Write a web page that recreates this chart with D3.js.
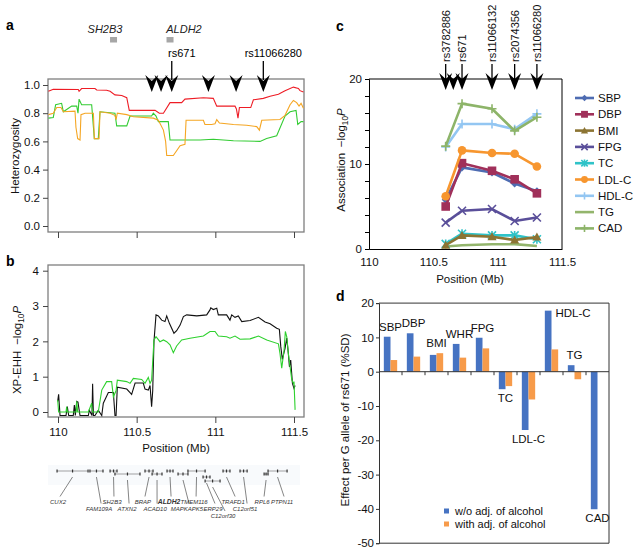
<!DOCTYPE html>
<html><head><meta charset="utf-8">
<script src="https://cdn.jsdelivr.net/npm/d3@7"></script>
<style>body{margin:0;background:#fff} svg{font-family:"Liberation Sans",Arial,sans-serif}</style>
</head><body><svg id="c" width="637" height="555"></svg>
<script>
// ---------------- DATA ----------------
// Panel a: heterozygosity [Mb, value]
const hetRed = [[109.939,0.955],[109.97,0.97],[110.129,0.968],[110.134,0.955],[110.15,0.975],[110.235,0.975],[110.246,0.965],[110.309,0.963],[110.331,0.955],[110.362,0.93],[110.405,0.925],[110.437,0.91],[110.453,0.82],[110.617,0.82],[110.644,0.80],[110.67,0.80],[110.712,0.875],[110.786,0.875],[110.807,0.90],[110.924,0.91],[110.987,0.905],[111.009,0.85],[111.125,0.85],[111.134,0.83],[111.144,0.765],[111.153,0.84],[111.225,0.84],[111.242,0.895],[111.305,0.905],[111.348,0.92],[111.401,0.935],[111.443,0.96],[111.496,0.985],[111.528,0.975],[111.538,0.96],[111.56,0.95]];
const hetOrange = [[109.939,0.79],[109.97,0.80],[109.992,0.84],[110.019,0.84],[110.034,0.81],[110.108,0.815],[110.114,0.70],[110.125,0.62],[110.14,0.61],[110.146,0.79],[110.172,0.80],[110.225,0.80],[110.231,0.62],[110.261,0.62],[110.267,0.81],[110.331,0.80],[110.362,0.785],[110.369,0.755],[110.377,0.80],[110.437,0.79],[110.479,0.775],[110.606,0.765],[110.638,0.75],[110.67,0.68],[110.684,0.60],[110.691,0.50],[110.733,0.50],[110.776,0.57],[110.807,0.58],[110.814,0.75],[110.924,0.75],[110.934,0.72],[110.977,0.72],[110.998,0.725],[111.009,0.755],[111.026,0.73],[111.115,0.72],[111.199,0.715],[111.263,0.705],[111.28,0.68],[111.295,0.75],[111.411,0.755],[111.443,0.785],[111.475,0.86],[111.496,0.89],[111.517,0.875],[111.532,0.85],[111.545,0.87],[111.56,0.835]];
const hetGreen = [[109.939,0.765],[109.97,0.77],[109.985,0.86],[110.023,0.87],[110.034,0.81],[110.087,0.85],[110.119,0.85],[110.127,0.80],[110.134,0.90],[110.15,0.86],[110.214,0.86],[110.231,0.62],[110.256,0.62],[110.267,0.81],[110.362,0.80],[110.373,0.71],[110.437,0.71],[110.458,0.78],[110.595,0.78],[110.606,0.80],[110.623,0.78],[110.638,0.74],[110.701,0.74],[110.712,0.61],[110.903,0.61],[110.987,0.615],[111.115,0.605],[111.284,0.60],[111.326,0.62],[111.39,0.64],[111.443,0.78],[111.475,0.81],[111.513,0.82],[111.524,0.72],[111.545,0.74],[111.56,0.74]];
// Panel b: XP-EHH -log10P [Mb, value]
const xpBlack = [[109.998,0.3],[110.004,0.5],[110.013,-0.1],[110.051,-0.1],[110.059,0.15],[110.068,-0.1],[110.097,-0.1],[110.104,0.2],[110.11,-0.1],[110.119,0.3],[110.127,0.28],[110.133,0.1],[110.14,-0.1],[110.193,-0.1],[110.199,0.05],[110.216,-0.1],[110.22,0.8],[110.225,-0.1],[110.235,-0.1],[110.256,0.05],[110.278,-0.1],[110.288,0.25],[110.32,0.55],[110.352,0.55],[110.362,-0.1],[110.369,-0.1],[110.377,0.7],[110.437,0.65],[110.458,0.55],[110.468,0.5],[110.49,0.82],[110.542,0.82],[110.553,0.65],[110.574,0.62],[110.585,0.75],[110.595,0.15],[110.602,0.6],[110.61,2.0],[110.623,2.75],[110.638,2.72],[110.659,2.6],[110.68,2.56],[110.691,2.72],[110.708,2.51],[110.737,2.23],[110.754,2.3],[110.776,2.46],[110.797,2.7],[110.818,2.75],[110.882,2.72],[110.945,2.75],[110.966,2.89],[110.971,2.95],[110.987,2.9],[111.009,2.94],[111.019,2.75],[111.072,2.75],[111.093,2.6],[111.104,2.75],[111.125,2.68],[111.146,2.72],[111.168,2.56],[111.221,2.59],[111.274,2.68],[111.316,2.55],[111.348,2.5],[111.39,2.37],[111.407,2.34],[111.416,1.85],[111.426,1.49],[111.443,1.8],[111.454,2.09],[111.464,1.66],[111.471,1.28],[111.479,1.47],[111.49,0.81],[111.5,0.67],[111.507,0.75]];
const xpGreen = [[109.998,0.34],[110.004,0.0],[110.051,0.0],[110.055,0.15],[110.06,0.0],[110.115,0.0],[110.119,0.3],[110.125,0.0],[110.193,0.0],[110.214,0.25],[110.22,0.0],[110.256,0.0],[110.278,0.62],[110.309,0.86],[110.341,0.86],[110.352,0.43],[110.369,0.6],[110.377,0.9],[110.437,0.86],[110.458,0.81],[110.479,0.95],[110.532,0.92],[110.553,0.81],[110.574,0.98],[110.585,0.81],[110.595,0.9],[110.61,2.04],[110.623,2.13],[110.648,1.99],[110.67,2.04],[110.691,1.99],[110.712,1.9],[110.733,1.68],[110.754,1.87],[110.786,2.04],[110.839,2.09],[110.924,2.15],[110.966,2.28],[110.998,2.28],[111.019,2.15],[111.072,2.13],[111.093,2.09],[111.125,2.15],[111.157,2.06],[111.221,2.07],[111.274,2.15],[111.327,2.04],[111.401,1.93],[111.411,1.66],[111.422,1.24],[111.437,1.76],[111.445,2.28],[111.454,2.13],[111.464,1.66],[111.475,1.28],[111.486,0.91],[111.496,0.81],[111.5,0.86],[111.507,0.06]];
// SNPs
const snpMb = [110.596,110.655,110.723,110.956,111.132,111.305];
const snpLabelsC = ["rs3782886","","rs671","rs11066132","rs2074356","rs11066280"];
const snpLabelsA = ["","","rs671","","","rs11066280"];
// Panel c: association -log10P at SNPs 0,2,3,4,5
const assocSnpIdx = [0,2,3,4,5];
const traitNames = ["SBP","DBP","BMI","FPG","TC","LDL-C","HDL-C","TG","CAD"];
const assocSBP = [5.8,9.6,9.0,7.7,6.8];
const assocDBP = [5.0,10.1,9.2,8.2,6.55];
const assocBMI = [0.45,1.6,1.45,1.05,1.4];
const assocFPG = [3.1,4.5,4.7,3.3,3.7];
const assocTC = [0.6,1.8,1.6,1.6,1.15];
const assocLDL = [6.2,11.6,11.3,11.2,9.7];
const assocHDL = [12.0,14.7,14.7,14.1,15.9];
const assocTG = [0.3,0.45,0.55,0.57,0.35];
const assocCAD = [12.1,17.1,16.5,13.9,15.5];
// Panel d: effect per G allele (%SD)
const effectCats = ["SBP","DBP","BMI","WHR","FPG","TC","LDL-C","HDL-C","TG","CAD"];
const effectNoAdj = [10.2,11.2,4.9,8.1,9.9,-5.1,-17.0,17.8,1.9,-40.1];
const effectAdj = [3.4,4.4,5.4,4.1,6.8,-4.2,-8.1,6.5,-2.2,null];
const effectLegend = ["w/o adj. of alcohol","with adj. of alcohol"];
// Gene track
const geneNames = ["CUX2","FAM109A","SH2B3","ATXN2","BRAP","ACAD10","ALDH2","MAPKAPK5","TMEM116","ERP29","C12orf30","TRAFD1","C12orf51","RPL6","PTPN11"];
const geneStart = [109.994,110.203,110.331,110.362,110.553,110.598,110.693,110.763,110.826,110.922,110.935,111.049,111.157,111.31,111.335];
const geneEnd   = [110.191,110.286,110.375,110.521,110.604,110.661,110.731,110.826,110.935,110.966,111.03,111.093,111.202,111.335,111.456];
const geneRow   = [0,0,0,1,0,1,0,1,0,2,3,0,0,1,0];
const geneLabelMb = [110.0,110.261,110.343,110.439,110.54,110.617,110.706,110.82,110.865,110.985,111.049,111.113,111.189,111.297,111.424];
const geneLabelRow = [0,1,0,1,0,1,0,1,0,1,2,0,1,0,0];
const topGenes = ["SH2B3","ALDH2"];
const topGeneMb = [110.353,110.712];
const axisTicksMb = [110,110.5,111,111.5];

// ---------------- DRAW ----------------
const svg = d3.select("#c");
const gray = "#7f7f7f";
const FONT = '"Liberation Sans",Arial,sans-serif';

function panelLetter(x,y,s){ svg.append("text").attr("x",x).attr("y",y).attr("font-size",14).attr("font-weight","bold").text(s); }
function logLabel(x,y,prefix,size){
  const t = svg.append("text").attr("transform",`translate(${x},${y}) rotate(-90)`).attr("text-anchor","middle").attr("font-size",size).attr("fill","#111");
  t.append("tspan").text(prefix + "\u2212log");
  t.append("tspan").attr("font-size",size*0.72).attr("dy",3).text("10");
  t.append("tspan").attr("font-style","italic").attr("dy",-3).text("P");
}
function arrowHead(g,x,tip){
  g.append("path").attr("d",`M${x},${tip} L${x-6.5},${tip-17} L${x},${tip-11} L${x+6.5},${tip-17} Z`).attr("fill","#000");
}
function styleAxis(a, stroke){ a.selectAll("line").attr("stroke",stroke); a.selectAll("text").attr("font-size",11.5).attr("fill","#111").attr("font-family",FONT); }

// ===== Panel a =====
const xA = d3.scaleLinear().domain([110,111.5]).range([58,294]);
const yA = d3.scaleLinear().domain([0,1]).range([226,85]);
svg.append("clipPath").attr("id","clipA").append("rect").attr("x",48).attr("y",79).attr("width",256).attr("height",153);
const gA = svg.append("g");
gA.append("rect").attr("x",48).attr("y",79).attr("width",256).attr("height",153).attr("fill","none").attr("stroke",gray).attr("stroke-width",1.3);
const lineA = d3.line().x(d=>xA(d[0])).y(d=>yA(d[1]));
[[hetGreen,"#33cc33"],[hetOrange,"#f5a623"],[hetRed,"#ee1c25"]].forEach(([d,c])=>{
  gA.append("path").attr("d",lineA(d)).attr("fill","none").attr("stroke",c).attr("stroke-width",1.1).attr("clip-path","url(#clipA)");
});
const axA = gA.append("g").attr("transform","translate(48,0)").call(d3.axisLeft(yA).tickValues([0,0.2,0.4,0.6,0.8,1.0]).tickFormat(d3.format(".1f")).tickSize(5).tickPadding(3));
const axAx = gA.append("g").attr("transform","translate(0,232)").call(d3.axisBottom(xA).tickValues(axisTicksMb).tickFormat("").tickSize(6));
[axA,axAx].forEach(a=>{a.select(".domain").remove(); styleAxis(a,"#444");});
svg.append("text").attr("transform","translate(18.5,156) rotate(-90)").attr("text-anchor","middle").attr("font-size",11.5).attr("fill","#111").text("Heterozygosity");
panelLetter(6,30,"a");
topGenes.forEach((g,i)=>{
  const x = xA(topGeneMb[i]);
  svg.append("rect").attr("x",x-3.5).attr("y",37).attr("width",7).attr("height",5.5).attr("fill","#a6a6a6");
  svg.append("text").attr("x", i===0 ? x-8.5 : x+14).attr("y",33).attr("text-anchor","middle").attr("font-size",11).attr("font-style","italic").attr("fill","#222").text(g);
});
snpMb.forEach((m,i)=>{
  const x = xA(m);
  if(snpLabelsA[i]){
    svg.append("line").attr("x1",x).attr("x2",x).attr("y1",61).attr("y2",80).attr("stroke","#000").attr("stroke-width",1.3);
    svg.append("text").attr("x",x+10).attr("y",57).attr("text-anchor","middle").attr("font-size",11).text(snpLabelsA[i]);
  }
  arrowHead(svg,x,92);
});

// ===== Panel b =====
const yB = d3.scaleLinear().domain([0,4]).range([412,270.7]);
svg.append("clipPath").attr("id","clipB").append("rect").attr("x",48).attr("y",265).attr("width",256).attr("height",152);
const gB = svg.append("g");
gB.append("rect").attr("x",48).attr("y",265).attr("width",256).attr("height",152).attr("fill","none").attr("stroke",gray).attr("stroke-width",1.3);
const lineB = d3.line().x(d=>xA(d[0])).y(d=>yB(d[1]));
[[xpBlack,"#111"],[xpGreen,"#2ed12e"]].forEach(([d,c])=>{
  gB.append("path").attr("d",lineB(d)).attr("fill","none").attr("stroke",c).attr("stroke-width",1.1).attr("clip-path","url(#clipB)");
});
const axB = gB.append("g").attr("transform","translate(48,0)").call(d3.axisLeft(yB).tickValues([0,1,2,3,4]).tickFormat(d=>String(d)).tickSize(5).tickPadding(4));
const axBx = gB.append("g").attr("transform","translate(0,417)").call(d3.axisBottom(xA).tickValues(axisTicksMb).tickFormat(d=>String(d)).tickSize(6).tickPadding(5));
[axB,axBx].forEach(a=>{a.select(".domain").remove(); styleAxis(a,"#444");});
svg.append("text").attr("x",176).attr("y",452).attr("text-anchor","middle").attr("font-size",11.5).attr("fill","#111").text("Position (Mb)");
logLabel(20.5,350,"XP-EHH\u2002",11.5);
panelLetter(6,266,"b");

// gene track
const gT = svg.append("g");
gT.append("rect").attr("x",48).attr("y",465).attr("width",252).attr("height",20).attr("fill","#f8fafc");
const rowY = [471,474,477,481];
const labY = [503.5,510.5,518];
geneNames.forEach((n,i)=>{
  const x0 = xA(geneStart[i]), x1 = xA(geneEnd[i]), y = rowY[geneRow[i]];
  gT.append("line").attr("x1",x0).attr("x2",x1).attr("y1",y).attr("y2",y).attr("stroke","#666").attr("stroke-width",0.6);
  [x0, x1, (x0+x1)/2].forEach(xx=>gT.append("rect").attr("x",xx-0.6).attr("y",y-1.5).attr("width",1.2).attr("height",3).attr("fill","#333"));
  const lx = xA(geneLabelMb[i]), ly = labY[geneLabelRow[i]];
  gT.append("line").attr("x1",lx+2).attr("y1",ly-7).attr("x2",(x0+x1)/2).attr("y2",y+6).attr("stroke","#333").attr("stroke-width",0.6);
  gT.append("text").attr("x",lx).attr("y",ly).attr("text-anchor","middle").attr("font-size",n==="ALDH2"?6.8:6).attr("font-style","italic").attr("font-weight",n==="ALDH2"?"bold":"normal").attr("fill","#333").text(n);
});

// ===== Panel c =====
const xC = d3.scaleLinear().domain([110,111.5]).range([369,562]);
const yC = d3.scaleLinear().domain([0,20]).range([249,79]);
const gC = svg.append("g");
gC.append("line").attr("x1",369).attr("x2",562).attr("y1",79).attr("y2",79).attr("stroke","#000").attr("stroke-width",1.2);
gC.append("line").attr("x1",562).attr("x2",562).attr("y1",79).attr("y2",249).attr("stroke","#000").attr("stroke-width",1);
const axC = gC.append("g").attr("transform","translate(369,0)").call(d3.axisLeft(yC).tickValues(d3.range(0,21,2)).tickFormat(d=>d%10===0?String(d):"").tickSize(4).tickPadding(3));
const axCx = gC.append("g").attr("transform","translate(0,249)").call(d3.axisBottom(xC).tickValues(axisTicksMb).tickFormat(d=>String(d)).tickSize(0).tickPadding(9));
[axC,axCx].forEach(a=>{a.select(".domain").attr("stroke","#000"); styleAxis(a,"#000");});
svg.append("text").attr("x",470).attr("y",283).attr("text-anchor","middle").attr("font-size",11.5).attr("fill","#111").text("Position (Mb)");
logLabel(345,160,"Association\u2002",11.5);
panelLetter(336,31,"c");

const seriesVals = [assocSBP,assocDBP,assocBMI,assocFPG,assocTC,assocLDL,assocHDL,assocTG,assocCAD];
const seriesColor = ["#4e6cb2","#a0305a","#8c7433","#5a4f9a","#2fc3c8","#f7962f","#93c6f2","#93b56c","#8db469"];
const seriesMarker = ["diamond","square","triangle","times","asterisk","circle","plus","none","plus"];
function marker(g,type,x,y,color,sc){
  sc = sc||1;
  const s = g.append("path").attr("transform",`translate(${x},${y}) scale(${sc})`);
  const m = {
    diamond:["M0,-4L4,0L0,4L-4,0Z",true],
    square:["M-4.3,-4.3h8.6v8.6h-8.6Z",true],
    triangle:["M0,-4.5L4.5,3.5L-4.5,3.5Z",true],
    times:["M-4,-4L4,4M-4,4L4,-4",false],
    asterisk:["M-4,-4L4,4M-4,4L4,-4M0,-4.5V4.5",false],
    circle:["M-4.3,0A4.3,4.3 0 1,0 4.3,0A4.3,4.3 0 1,0 -4.3,0Z",true],
    plus:["M-4.5,0H4.5M0,-4.5V4.5",false],
    none:["",false]
  }[type];
  s.attr("d",m[0]);
  if(m[1]) s.attr("fill",color).attr("stroke","none"); else s.attr("fill","none").attr("stroke",color).attr("stroke-width",1.6/sc);
}
const lineC = d3.line().x(d=>xC(d[0])).y(d=>yC(d[1]));
const drawOrder = [7,4,2,3,0,1,5,6,8];
drawOrder.forEach(k=>{
  const pts = assocSnpIdx.map((si,j)=>[snpMb[si],seriesVals[k][j]]);
  gC.append("path").attr("d",lineC(pts)).attr("fill","none").attr("stroke",seriesColor[k]).attr("stroke-width",2.6).attr("stroke-linejoin","round");
  pts.forEach(p=>marker(gC,seriesMarker[k],xC(p[0]),yC(p[1]),seriesColor[k]));
});
traitNames.forEach((n,i)=>{
  const y = 98 + i*16.3;
  svg.append("line").attr("x1",575).attr("x2",594).attr("y1",y).attr("y2",y).attr("stroke",seriesColor[i]).attr("stroke-width",2.6);
  marker(svg,seriesMarker[i],584.5,y,seriesColor[i],0.8);
  svg.append("text").attr("x",598).attr("y",y+4).attr("font-size",11.5).attr("fill","#111").text(n);
});
snpMb.forEach((m,i)=>{
  const x = xC(m);
  if(snpLabelsC[i]){
    svg.append("line").attr("x1",x).attr("x2",x).attr("y1",64).attr("y2",80).attr("stroke","#000").attr("stroke-width",1.3);
    svg.append("text").attr("transform",`translate(${x+4},62) rotate(-90)`).attr("font-size",11).attr("fill","#111").text(snpLabelsC[i]);
  }
  arrowHead(svg,x,90);
});

// ===== Panel d =====
const xD = d3.scaleBand().domain(effectCats).range([379,609]).paddingInner(0.42).paddingOuter(0.21);
const yD = d3.scaleLinear().domain([-50,20]).range([543.2,303.1]);
const gD = svg.append("g");
const bw = xD.bandwidth()/2;
const colB = "#4673c2", colO = "#f79b4a";
effectCats.forEach((c,i)=>{
  const x = xD(c);
  const v1 = effectNoAdj[i], v2 = effectAdj[i];
  gD.append("rect").attr("x",x).attr("width",bw).attr("y",yD(Math.max(0,v1))).attr("height",Math.abs(yD(v1)-yD(0))).attr("fill",colB);
  if(v2!==null) gD.append("rect").attr("x",x+bw).attr("width",bw).attr("y",yD(Math.max(0,v2))).attr("height",Math.abs(yD(v2)-yD(0))).attr("fill",colO);
});
gD.append("line").attr("x1",379).attr("x2",609).attr("y1",303.1).attr("y2",303.1).attr("stroke","#333").attr("stroke-width",1);
gD.append("line").attr("x1",609).attr("x2",609).attr("y1",303.1).attr("y2",543.2).attr("stroke","#333").attr("stroke-width",1);
gD.append("line").attr("x1",379).attr("x2",609).attr("y1",543.2).attr("y2",543.2).attr("stroke","#333").attr("stroke-width",1);
const axD = gD.append("g").attr("transform","translate(379,0)").call(d3.axisLeft(yD).tickValues(d3.range(-50,21,10)).tickFormat(d=>String(d)).tickSize(3).tickPadding(2));
axD.select(".domain").attr("stroke","#333");
styleAxis(axD,"#333");
gD.append("line").attr("x1",379).attr("x2",609).attr("y1",yD(0)).attr("y2",yD(0)).attr("stroke","#333").attr("stroke-width",1);
const step = xD.step();
d3.range(1,effectCats.length).forEach(k=>{
  const x = 379 + k*step;
  gD.append("line").attr("x1",x).attr("x2",x).attr("y1",yD(0)).attr("y2",yD(0)+3.5).attr("stroke","#333");
});
effectCats.forEach((c,i)=>{
  const v1 = effectNoAdj[i], v2 = effectAdj[i]===null?0:effectAdj[i];
  const cx = xD(c)+xD.bandwidth()/2;
  const t = gD.append("text").attr("font-size",11.5).attr("fill","#111").text(c);
  if(v1>15){
    t.attr("x",cx+4).attr("y",yD(v1)+6).attr("text-anchor","start");
  } else if(v1>=0){
    t.attr("x",cx).attr("y",yD(Math.max(v1,v2))-6).attr("text-anchor","middle");
  } else {
    t.attr("x",cx).attr("y",yD(Math.min(v1,v2))+12.5).attr("text-anchor","middle");
  }
});
[colB,colO].forEach((c,i)=>{
  const y = 511 + i*13;
  gD.append("rect").attr("x",444).attr("y",y-2.5).attr("width",5).attr("height",5).attr("fill",c);
  gD.append("text").attr("x",455).attr("y",y+4).attr("font-size",11).attr("fill","#111").text(effectLegend[i]);
});
svg.append("text").attr("transform","translate(349,420) rotate(-90)").attr("text-anchor","middle").attr("font-size",11.5).attr("fill","#111").text("Effect per G allele of rs671 (%SD)");
panelLetter(336,301,"d");
</script></body></html>
